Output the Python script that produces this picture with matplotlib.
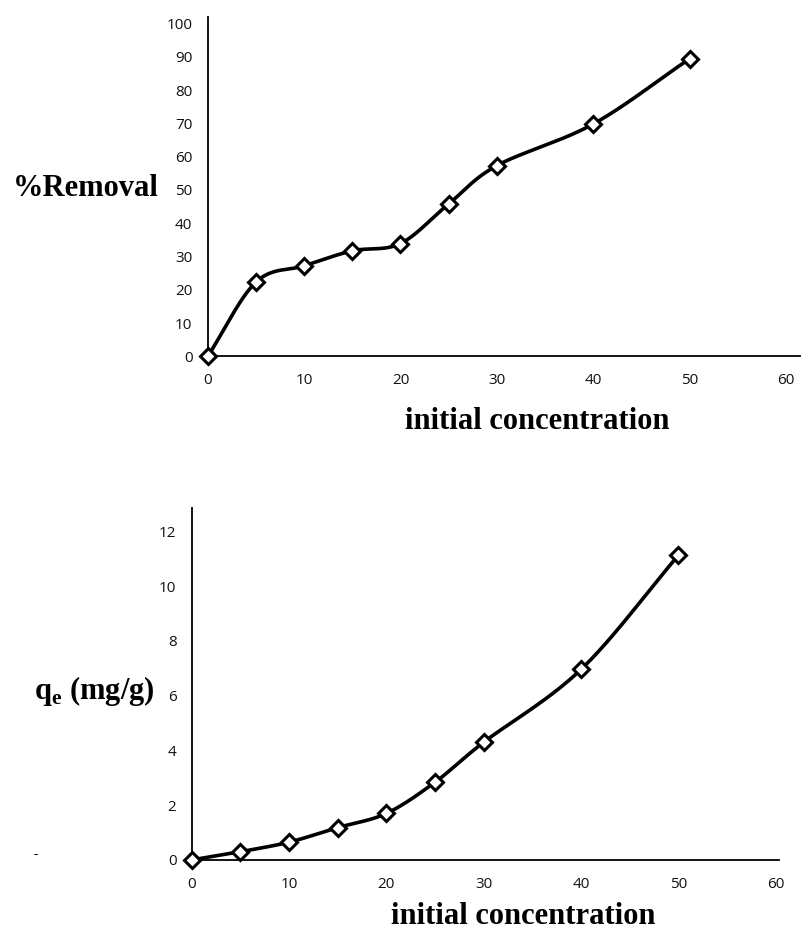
import numpy as np
import matplotlib
matplotlib.use("Agg")
import matplotlib.pyplot as plt

# Initial concentration (mg/L)
conc = [0, 5, 10, 15, 20, 25, 30, 40, 50]
# Percentage removal
removal = [0, 22.3, 27.2, 31.7, 33.9, 45.8, 57.3, 69.8, 89.4]
# Adsorption capacity qe (mg/g)
qe = [0, 0.30, 0.65, 1.18, 1.70, 2.84, 4.30, 6.96, 11.13]

x_ticks = [0, 10, 20, 30, 40, 50, 60]
removal_ticks = list(range(0, 101, 10))
qe_ticks = [0, 2, 4, 6, 8, 10, 12]


def smooth_curve(x, y, sx, sy, n=40):
    """Catmull-Rom spline through the points (computed in display-like scaled space)."""
    px = np.asarray(x, float) * sx
    py = np.asarray(y, float) * sy
    P = np.column_stack([px, py])
    P = np.vstack([P[0] - (P[1] - P[0]), P, P[-1] + (P[-1] - P[-2])])
    out = []
    for i in range(1, len(P) - 2):
        p0, p1, p2, p3 = P[i - 1], P[i], P[i + 1], P[i + 2]
        t = np.linspace(0, 1, n)[:, None]
        seg = 0.5 * ((2 * p1) + (-p0 + p2) * t + (2 * p0 - 5 * p1 + 4 * p2 - p3) * t ** 2
                     + (-p0 + 3 * p1 - 3 * p2 + p3) * t ** 3)
        out.append(seg if i == 1 else seg[1:])
    c = np.vstack(out)
    return c[:, 0] / sx, c[:, 1] / sy


tick_font = "Open Sans"
label_font = "Liberation Serif"

fig = plt.figure(figsize=(8.02, 9.33), dpi=100)

ax1 = fig.add_axes([0.259, 0.618, 0.739, 0.364])
ax2 = fig.add_axes([0.239, 0.0783, 0.732, 0.3772])


def style(ax, ymax, yticks, xmax):
    ax.set_xlim(0, xmax)
    ax.set_ylim(0, ymax)
    ax.set_xticks(x_ticks)
    ax.set_yticks(yticks)
    for s in ("top", "right"):
        ax.spines[s].set_visible(False)
    for s in ("left", "bottom"):
        ax.spines[s].set_linewidth(1.3)
        ax.spines[s].set_color("black")
    ax.tick_params(axis="both", length=0, labelsize=11, labelcolor="#111111")
    ax.tick_params(axis="x", pad=12)
    ax.tick_params(axis="y", pad=11)
    for lab in ax.get_xticklabels() + ax.get_yticklabels():
        lab.set_fontfamily(tick_font)
    for lab in ax.get_xticklabels():
        lab.set_clip_on(False)


def draw(ax, x, y, sx, sy):
    cx, cy = smooth_curve(x, y, sx, sy)
    ax.plot(cx, cy, color="black", lw=2.6, solid_capstyle="round", zorder=2, clip_on=False)
    ax.plot(x, y, ls="none", marker="D", ms=8, mfc="white", mec="black", mew=2.2,
            zorder=3, clip_on=False)


style(ax1, 102, removal_ticks, 61.5)
draw(ax1, conc, removal, 9.65, 3.32)
style(ax2, 12.85, qe_ticks, 60.3)
draw(ax2, conc, qe, 9.7, 27.4)

lbl = dict(family=label_font, fontweight="bold", fontsize=22, color="black")
fig.text(0.107, 0.798, "%Removal", ha="center", va="center", **lbl)
fig.text(0.67, 0.548, "initial concentration", ha="center", va="center", **lbl)
fig.text(0.117, 0.259, r"q$_{\mathregular{e}}$ (mg/g)", ha="center", va="center", **lbl)
fig.text(0.653, 0.018, "initial concentration", ha="center", va="center", **lbl)
fig.text(0.044, 0.084, "-", ha="center", va="center", family=tick_font, fontsize=10)

fig.savefig("out.png", dpi=100, facecolor="white")
